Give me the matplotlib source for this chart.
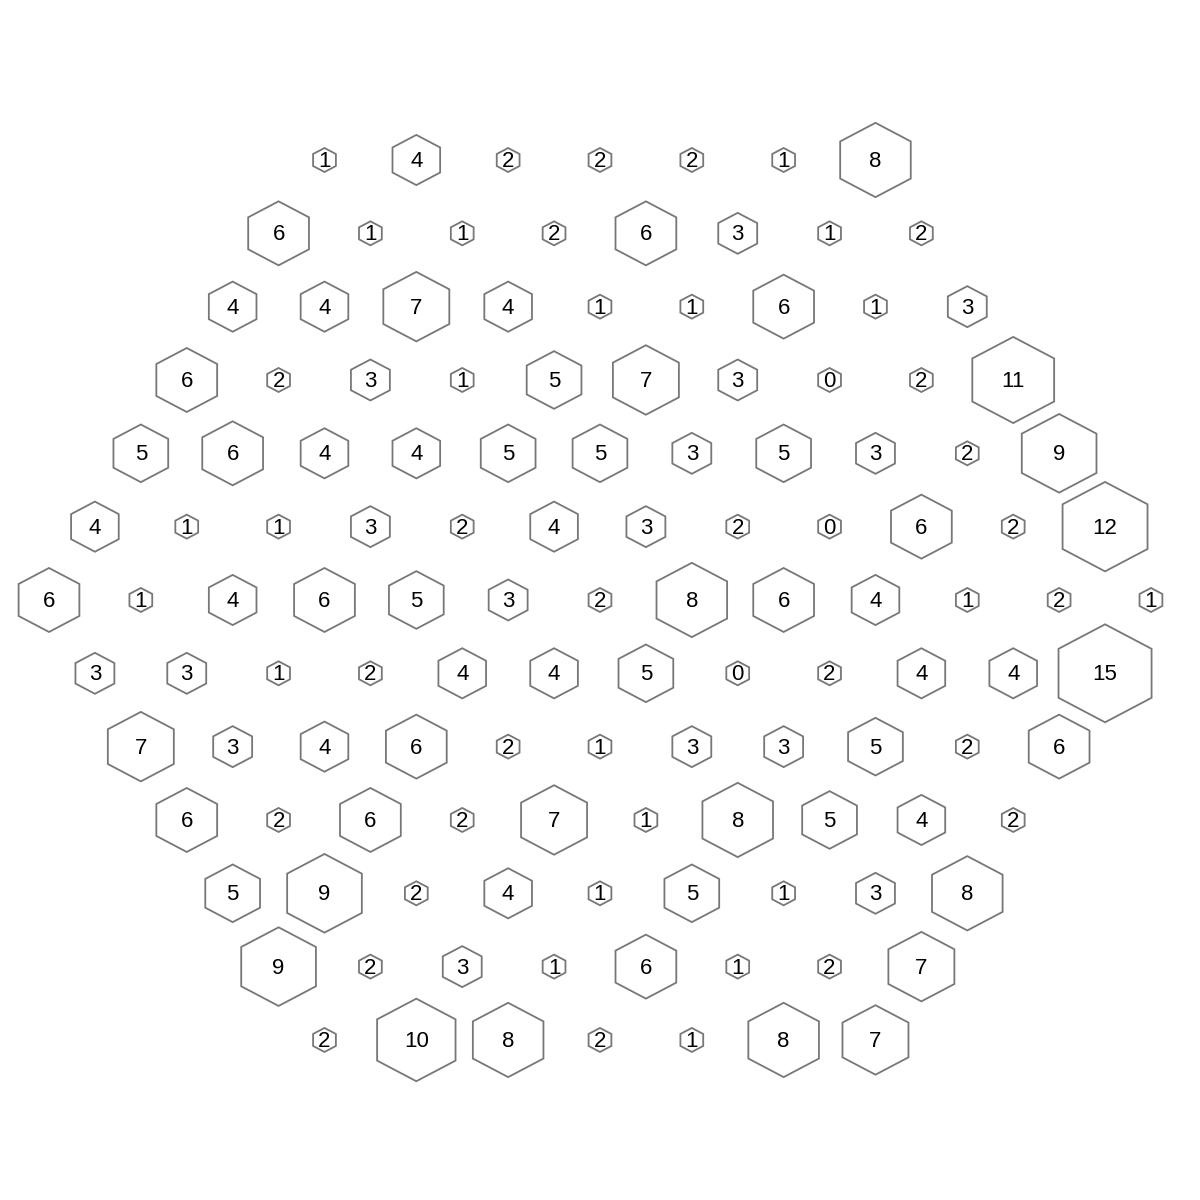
import numpy as np
import matplotlib
matplotlib.use('Agg')
import matplotlib.pyplot as plt
from matplotlib.patches import Polygon

# counts per hex cell, top row first
row_01 = [1, 4, 2, 2, 2, 1, 8]
row_02 = [6, 1, 1, 2, 6, 3, 1, 2]
row_03 = [4, 4, 7, 4, 1, 1, 6, 1, 3]
row_04 = [6, 2, 3, 1, 5, 7, 3, 0, 2, 11]
row_05 = [5, 6, 4, 4, 5, 5, 3, 5, 3, 2, 9]
row_06 = [4, 1, 1, 3, 2, 4, 3, 2, 0, 6, 2, 12]
row_07 = [6, 1, 4, 6, 5, 3, 2, 8, 6, 4, 1, 2, 1]
row_08 = [3, 3, 1, 2, 4, 4, 5, 0, 2, 4, 4, 15]
row_09 = [7, 3, 4, 6, 2, 1, 3, 3, 5, 2, 6]
row_10 = [6, 2, 6, 2, 7, 1, 8, 5, 4, 2]
row_11 = [5, 9, 2, 4, 1, 5, 1, 3, 8]
row_12 = [9, 2, 3, 1, 6, 1, 2, 7]
row_13 = [2, 10, 8, 2, 1, 8, 7]

rows = [row_01, row_02, row_03, row_04, row_05, row_06, row_07,
        row_08, row_09, row_10, row_11, row_12, row_13]

# pixel size of one lattice step
dx_px = 91.83
dy_px = 73.33


def hex_height(v):
    # full height of hexagon in pixels
    if v < 3:
        return 24.0
    return 41.1 * np.log(v + 1) - 16.0


fig = plt.figure(figsize=(12, 12), dpi=100)
ax = fig.add_axes([0, 0, 1, 1])
ax.set_xlim(-49 / dx_px, (1200 - 49) / dx_px)
ax.set_ylim((1200 - 160) / dy_px, -160 / dy_px)
ax.axis('off')

mid = len(rows) // 2
for r, vals in enumerate(rows):
    offset = abs(r - mid) * 0.5
    for i, v in enumerate(vals):
        cx = offset + i
        cy = r
        h = hex_height(v) / 2
        w = 0.95 * h
        hy = h / dy_px
        hx = w / dx_px
        verts = [(cx, cy - hy), (cx + hx, cy - hy / 2), (cx + hx, cy + hy / 2),
                 (cx, cy + hy), (cx - hx, cy + hy / 2), (cx - hx, cy - hy / 2)]
        ax.add_patch(Polygon(verts, closed=True, facecolor='white',
                             edgecolor='#777777', linewidth=1.3))
        ax.text(cx, cy + 1.5 / dy_px, str(v), ha='center', va='center',
                fontsize=16, family='Liberation Sans', color='black')

plt.savefig('out.png', dpi=100)
